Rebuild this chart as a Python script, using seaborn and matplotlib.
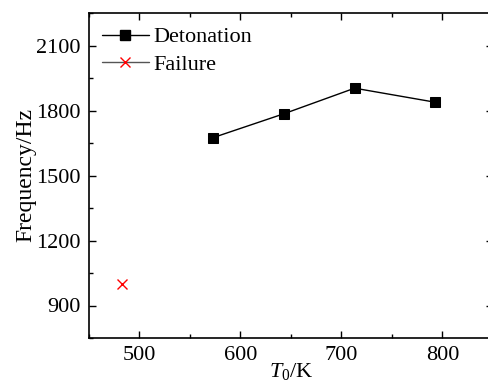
import matplotlib
matplotlib.use("Agg")
import matplotlib.pyplot as plt
import seaborn as sns
import pandas as pd
from matplotlib.ticker import MultipleLocator
from matplotlib.lines import Line2D

det_T = [573, 643, 713, 793]
det_f = [1675, 1785, 1903, 1838]
fail_T = [483]
fail_f = [1000]

sns.set_theme(style="ticks")
plt.rcParams['font.family'] = ['Liberation Serif', 'DejaVu Serif']
plt.rcParams['mathtext.fontset'] = 'custom'
plt.rcParams['mathtext.it'] = 'Liberation Serif:italic'
plt.rcParams['mathtext.rm'] = 'Liberation Serif'
plt.rcParams['text.color'] = 'black'
plt.rcParams['axes.labelcolor'] = 'black'

fig = plt.figure(figsize=(4.89, 3.81), dpi=100)
ax = fig.add_axes([89/489, 1-338/381, (493-89)/489, (338-13)/381])

df_det = pd.DataFrame({"T": det_T, "f": det_f})
df_fail = pd.DataFrame({"T": fail_T, "f": fail_f})

sns.lineplot(data=df_det, x="T", y="f", ax=ax, color="black", lw=1,
             marker="s", markersize=6.5, markeredgecolor="black",
             markerfacecolor="black")
sns.lineplot(data=df_fail, x="T", y="f", ax=ax, color="red", lw=1,
             marker="x", markersize=7, markeredgewidth=1, markeredgecolor="red")

ax.set_xlim(450, 850)
ax.set_ylim(750, 2250)
ax.xaxis.set_major_locator(MultipleLocator(100))
ax.xaxis.set_minor_locator(MultipleLocator(50))
ax.yaxis.set_major_locator(MultipleLocator(300))
ax.yaxis.set_minor_locator(MultipleLocator(150))
ax.tick_params(which="both", direction="in", top=True, right=True, labelsize=16,
               width=1, colors="black")
ax.tick_params(which="major", length=5, pad=6)
ax.tick_params(which="minor", length=3)
for s in ax.spines.values():
    s.set_linewidth(1.2)
    s.set_color("black")

ax.set_xlabel("$T_0$/K", fontsize=16, labelpad=-3)
ax.set_ylabel("Frequency/Hz", fontsize=17, labelpad=0)

h = [Line2D([], [], color="black", lw=1, marker="s", markersize=6.5,
            markerfacecolor="black", markeredgecolor="black"),
     Line2D([], [], color="#555555", lw=1, marker="x", markersize=7,
            markeredgewidth=1, markeredgecolor="red")]
l = ["Detonation", "Failure"]
ax.legend(h, l, loc="upper left", frameon=False, fontsize=16, handlelength=2.1,
          handletextpad=0.2, borderaxespad=0.0, labelspacing=0.3,
          bbox_to_anchor=(0.01, 0.985))

fig.savefig("out.png", dpi=100)
